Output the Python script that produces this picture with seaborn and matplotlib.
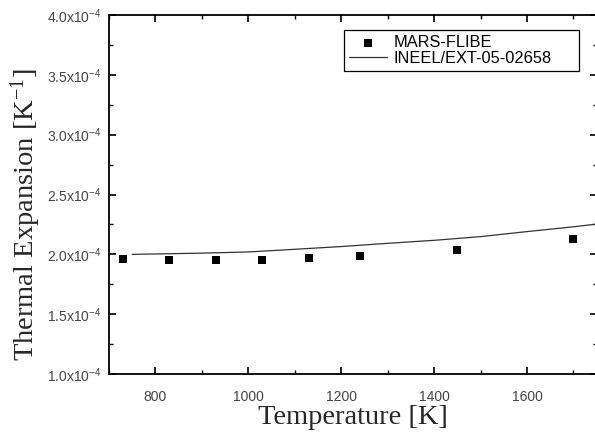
import matplotlib
matplotlib.use("Agg")
import matplotlib.pyplot as plt
import seaborn as sns
import numpy as np
import pandas as pd
from matplotlib.ticker import MultipleLocator, FixedLocator, FixedFormatter
from matplotlib.patches import Rectangle

# Data
mars_T = [731, 830, 930, 1030, 1130, 1240, 1450, 1699]
mars_alpha = [1.961e-4, 1.953e-4, 1.953e-4, 1.955e-4, 1.967e-4, 1.986e-4, 2.036e-4, 2.128e-4]

ineel_T = [750, 800, 900, 1000, 1100, 1200, 1300, 1400, 1500, 1600, 1700, 1750]
ineel_alpha = [2.000e-4, 2.003e-4, 2.010e-4, 2.020e-4, 2.042e-4, 2.065e-4, 2.092e-4,
               2.117e-4, 2.148e-4, 2.190e-4, 2.230e-4, 2.253e-4]

ytick_vals = [1.0e-4, 1.5e-4, 2.0e-4, 2.5e-4, 3.0e-4, 3.5e-4, 4.0e-4]
ytick_labels = ["1.0x10$^{-4}$", "1.5x10$^{-4}$", "2.0x10$^{-4}$", "2.5x10$^{-4}$",
                "3.0x10$^{-4}$", "3.5x10$^{-4}$", "4.0x10$^{-4}$"]

sns.set_style("ticks")
plt.rcParams['font.family'] = ['Liberation Sans', 'DejaVu Sans']
plt.rcParams['mathtext.fontset'] = 'custom'
plt.rcParams['mathtext.rm'] = 'Liberation Sans'
plt.rcParams['mathtext.it'] = 'Liberation Sans'

W, H = 595, 437
fig = plt.figure(figsize=(W/100, H/100), dpi=100)
ax = fig.add_axes([109/W, 63/H, (596.6-109)/W, 359/H])

df_m = pd.DataFrame({"T": mars_T, "a": mars_alpha})
df_i = pd.DataFrame({"T": ineel_T, "a": ineel_alpha})

sns.scatterplot(data=df_m, x="T", y="a", ax=ax, marker="s", s=26, color="black",
                edgecolor="black", linewidth=0, label="MARS-FLIBE", zorder=3)
sns.lineplot(data=df_i, x="T", y="a", ax=ax, color="#333333", linewidth=0.9,
             label="INEEL/EXT-05-02658")

ax.set_xlim(700, 1750)
ax.set_ylim(1.0e-4, 4.0e-4)
ax.xaxis.set_major_locator(MultipleLocator(200))
ax.xaxis.set_minor_locator(MultipleLocator(100))
ax.yaxis.set_major_locator(FixedLocator(ytick_vals))
ax.yaxis.set_major_formatter(FixedFormatter(ytick_labels))
ax.yaxis.set_minor_locator(MultipleLocator(0.25e-4))

ax.tick_params(which="both", direction="in", top=True, right=True, colors="black",
               labelcolor="#444444", labelsize=10)
ax.tick_params(which="major", length=5, width=1.2)
ax.tick_params(which="minor", length=3, width=1.0)
ax.tick_params(axis="x", which="major", pad=11.5)
ax.tick_params(axis="y", which="major", pad=5.5)
for s in ax.spines.values():
    s.set_linewidth(1.3)
    s.set_color("black")

ax.set_xlabel("Temperature [K]", family=["Liberation Serif"], fontsize=20.5, labelpad=0.5)
ax.set_ylabel(r"Thermal Expansion [K$\mathregular{^{-1}}$]", family=["Liberation Serif"],
              fontsize=20.5)
ax.yaxis.set_label_coords(-0.136, 0.443)

leg = ax.legend(loc="upper left", bbox_to_anchor=(344/W, 1 - 30/H),
                bbox_transform=fig.transFigure, frameon=False,
                fontsize=11.8, handlelength=2.3, borderpad=0.3,
                labelspacing=0.05, handletextpad=0.4, borderaxespad=0)
leg.set_zorder(6)
for t in leg.get_texts():
    t.set_color("black")

# legend frame, spanning the reference box width
fig.canvas.draw()
bb = leg.get_window_extent()
inv = fig.transFigure.inverted()
x0, y0 = inv.transform((bb.x0, bb.y0))
x1, y1 = inv.transform((bb.x1, bb.y1))
right = max(x1 + 4 / W, 579 / W)
frame = Rectangle((x0, y0), right - x0, y1 - y0, transform=fig.transFigure,
                  facecolor="white", edgecolor="black", linewidth=0.9, zorder=5)
ax.add_artist(frame)
frame.set_clip_on(False)

fig.savefig("out.png", dpi=100)
